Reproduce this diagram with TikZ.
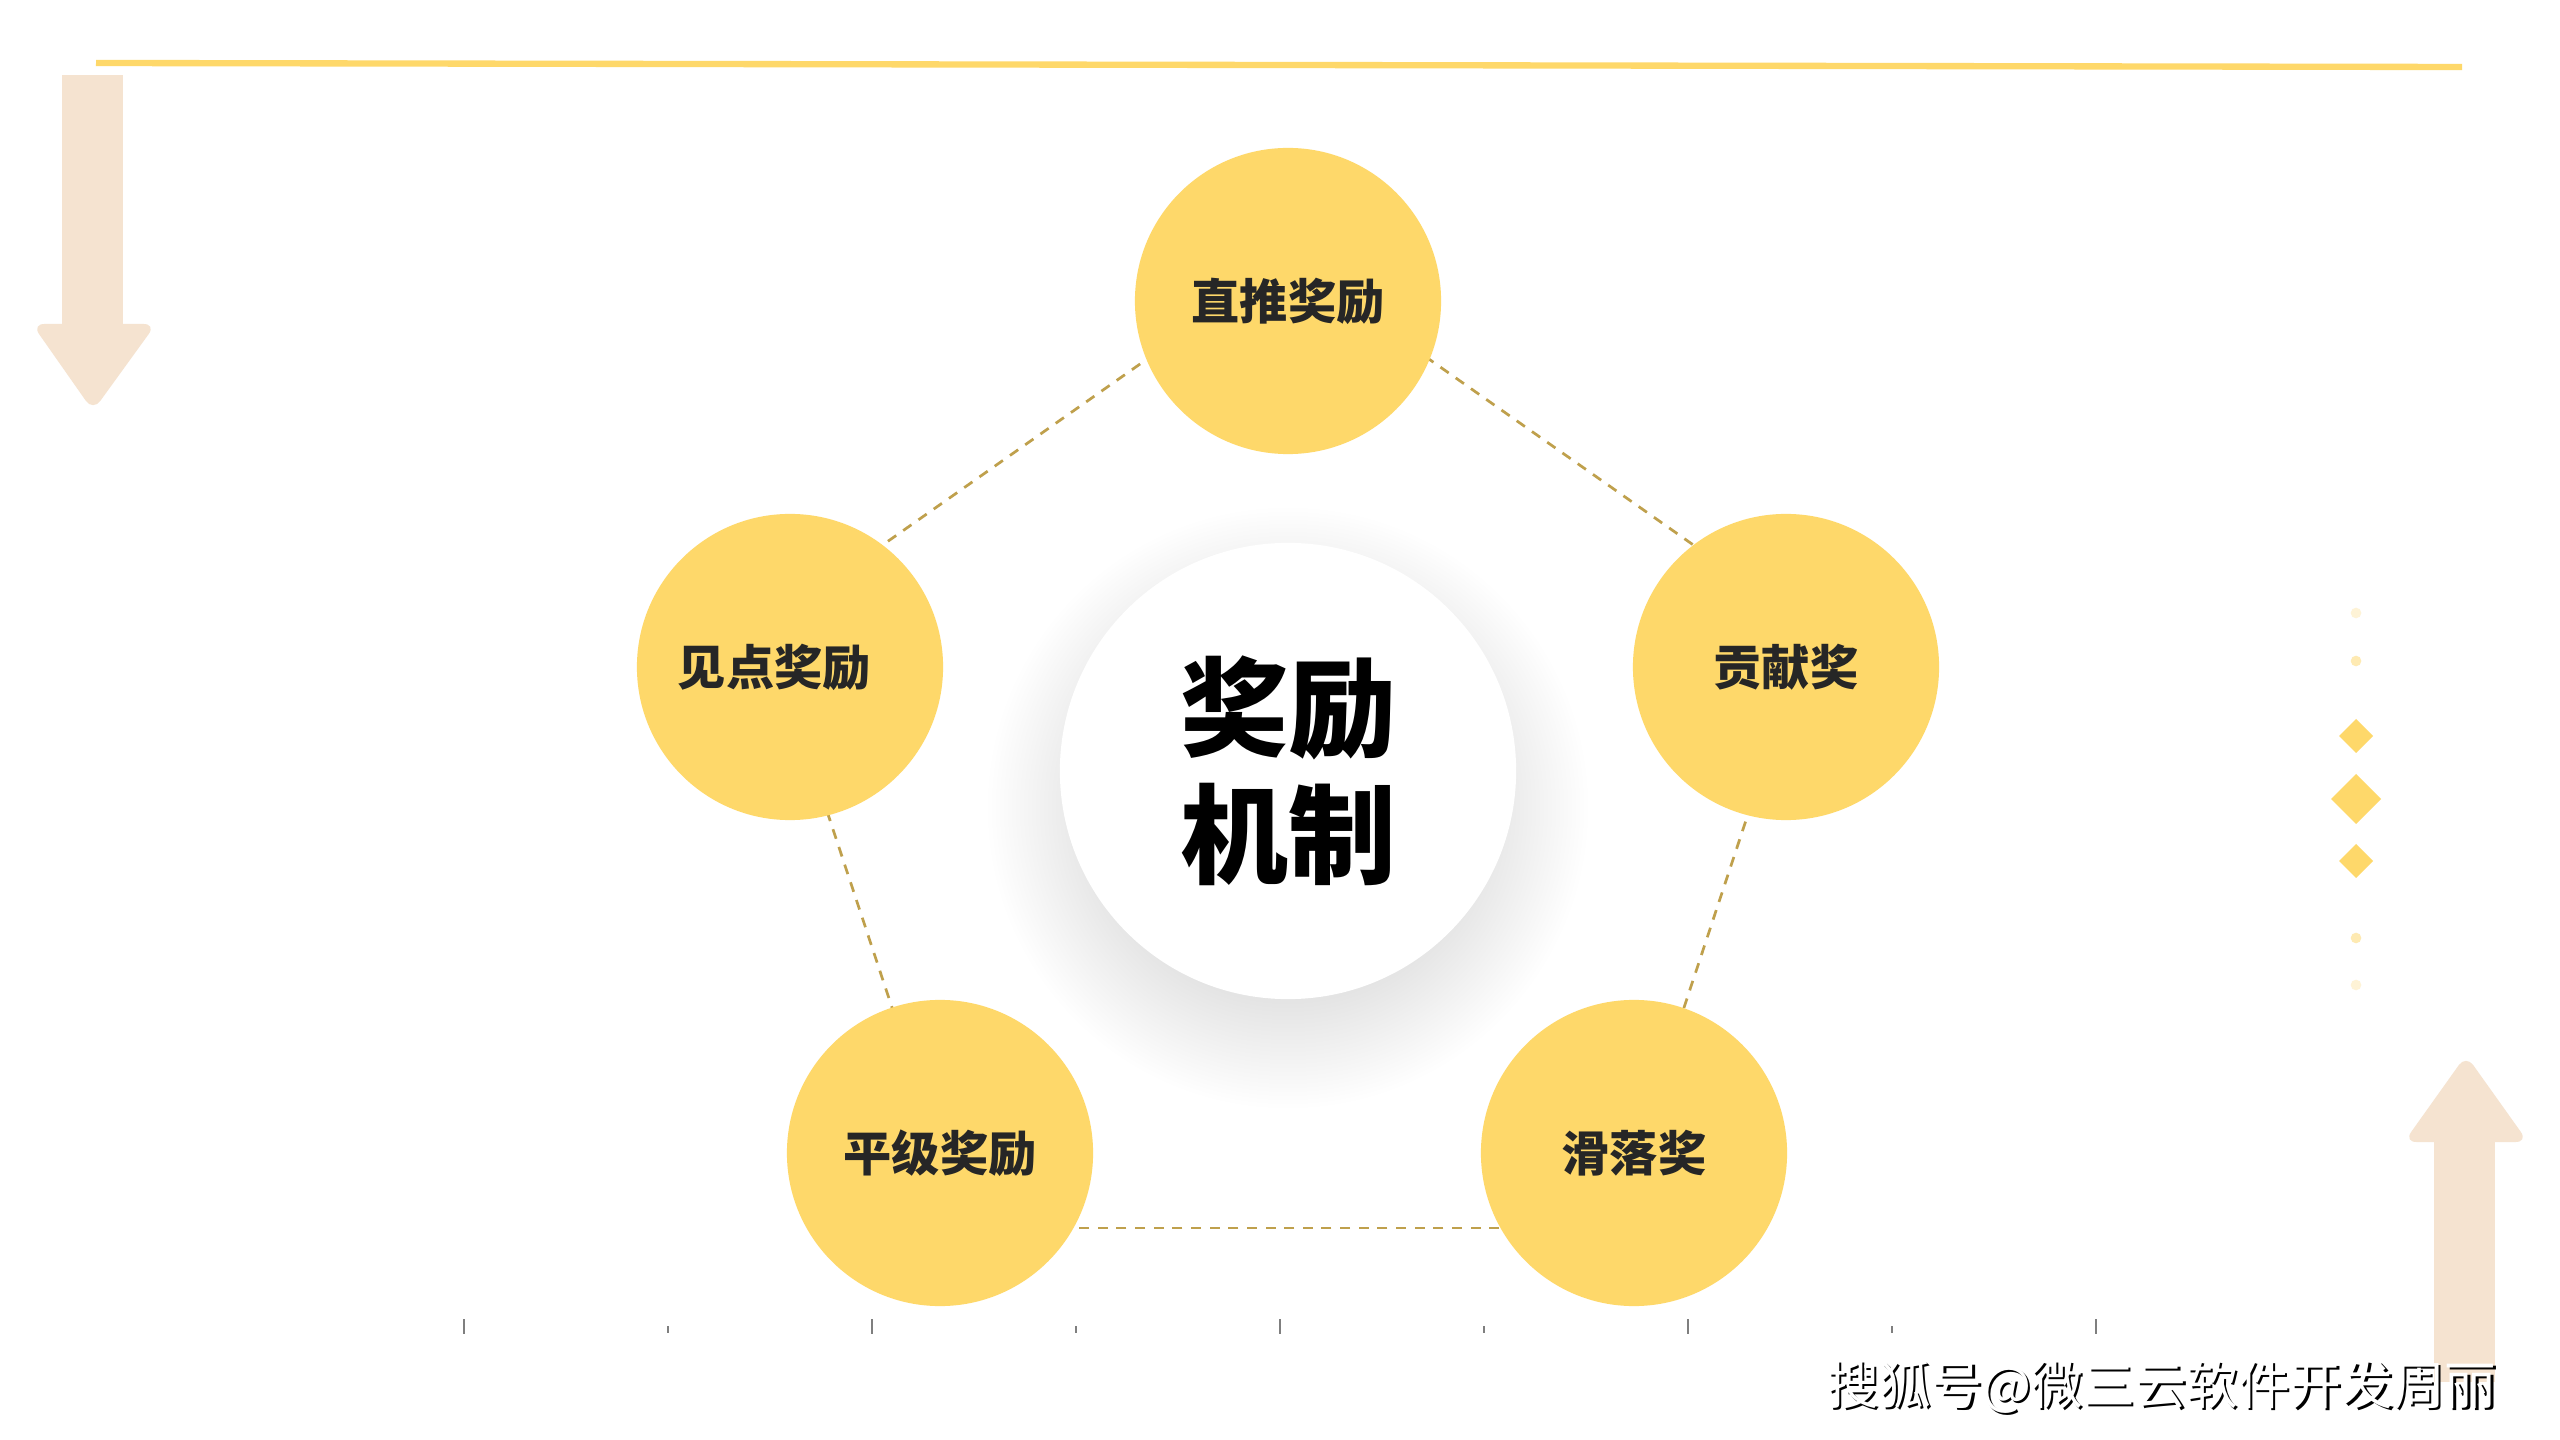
\documentclass[tikz,border=0pt]{standalone}
\usepackage{fontspec}
\newfontfamily\cjk{Noto Sans CJK SC}
\definecolor{yel}{HTML}{FED86A}
\definecolor{gold}{HTML}{BFA04C}
\definecolor{peach}{HTML}{F5E3D0}
\definecolor{txt}{HTML}{262626}
\definecolor{tick}{HTML}{7F7F7F}
\definecolor{dotA}{HTML}{FEF3D6}
\definecolor{dotB}{HTML}{FEEAB2}
\begin{document}
\begin{tikzpicture}[x=0.01cm,y=-0.01cm,
  bubble/.style={circle, fill=yel, minimum size=3.06cm, inner sep=0pt, text=txt,
    font=\cjk\bfseries\fontsize{13.7}{16}\selectfont},
  hub/.style={circle, fill=white, minimum size=4.56cm, inner sep=0pt, align=center, text=black,
    font=\cjk\bfseries\fontsize{30.7}{36.1}\selectfont},
  link/.style={draw=gold, line width=0.77pt, dash pattern=on 2.85pt off 2.45pt},
  arrowbody/.style={fill=peach},
  arrowhead/.style={fill=peach, rounded corners=3.5pt},
  dotmark/.style={circle, inner sep=0pt, minimum size=0.106cm},
  diam/.style={fill=yel},
  tickline/.style={draw=tick},
  wmfont/.style={font=\cjk\fontsize{14.7}{16}\selectfont, inner sep=0pt}
]
\useasboundingbox (0,0) rectangle (2560,1440);
\fill[white] (0,0) rectangle (2560,1440);

% top line
\coordinate (tl) at (96,63);
\coordinate (tr) at (2462,67);
\draw[yel, line width=1.8pt] (tl) -- (tr);

% left arrow (down)
\fill[arrowbody] (62,75) rectangle (123,335);
\fill[arrowhead] (32,324) -- (156,324) -- (93,411) -- cycle;

% right arrow (up)
\fill[arrowbody] (2434,1130) rectangle (2495,1382);
\fill[arrowhead] (2404,1142) -- (2528,1142) -- (2466,1055) -- cycle;

% right decorations
\node[dotmark, fill=dotA] (d1) at (2356,613) {};
\node[dotmark, fill=dotB] (d2) at (2356,661) {};
\fill[diam] (2356,719) -- (2373,736) -- (2356,753) -- (2339,736) -- cycle;
\fill[diam] (2356,774) -- (2381,799) -- (2356,824) -- (2331,799) -- cycle;
\fill[diam] (2356,844) -- (2373,861) -- (2356,878) -- (2339,861) -- cycle;
\node[dotmark, fill=dotB] (d3) at (2356,938) {};
\node[dotmark, fill=dotA] (d4) at (2356,985) {};

% ticks
\foreach \k in {0,2,4,6,8} {
  \draw[tickline, line width=0.8pt] ({464+204*\k},1319) -- ({464+204*\k},1334);
}
\foreach \k in {1,3,5,7} {
  \draw[tickline, line width=0.35pt] ({464+204*\k},1326) -- ({464+204*\k},1333);
}

% pentagon dashed links
\coordinate (p1) at (1288,260);
\coordinate (p2) at (1810,627);
\coordinate (p3) at (1611,1228);
\coordinate (p4) at (965,1228);
\coordinate (p5) at (766,627);
\draw[link] (p1) -- (p2);
\draw[link] (p2) -- (p3);
\draw[link] (p3) -- (p4);
\draw[link] (p4) -- (p5);
\draw[link] (p5) -- (p1);

% shadow of hub
\foreach \i in {0,...,30} {
  \fill[black, opacity=0.0042] (1288,808) circle[radius={(1.80+0.04*\i)*1cm}];
}

% hub
\node[hub] (hub) at (1288,771) {奖励\\机制};

% bubbles
\node[bubble] (b1) at (1288,301) {直推奖励};
\node[bubble] (b2) at (1786,667) {贡献奖};
\node[bubble] (b3) at (1634,1153) {滑落奖};
\node[bubble] (b4) at (940,1153) {平级奖励};
\node[bubble] (b5) at (790,667) {见点奖励\rule{9pt}{0pt}};

% watermark
\node[wmfont, text=black] (wms) at (2164.5,1389.5) {搜狐号@微三云软件开发周丽};
\node[wmfont, text=white] (wm) at (2162,1387) {搜狐号@微三云软件开发周丽};
\end{tikzpicture}
\end{document}
